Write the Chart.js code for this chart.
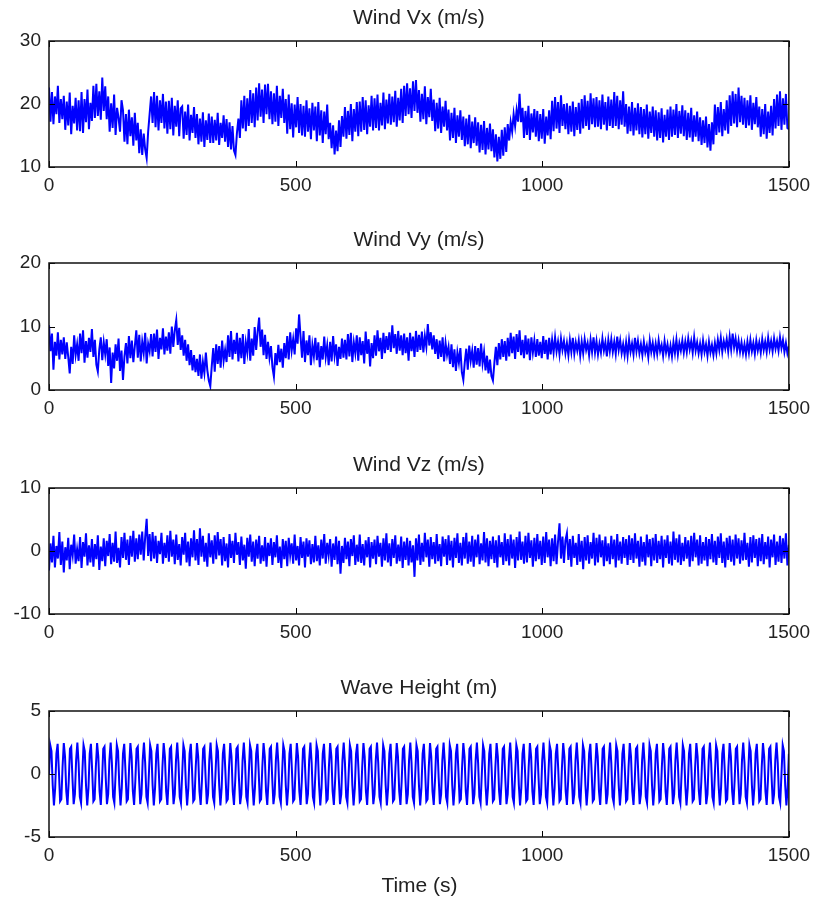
<!DOCTYPE html>
<html>
<head>
<meta charset="utf-8">
<script src="https://cdn.jsdelivr.net/npm/chart.js@4.4.0/dist/chart.umd.min.js"></script>
<style>
  html, body { margin: 0; padding: 0; background: #fff; }
  #wrap { position: relative; width: 817px; height: 903px; background: #fff; overflow: hidden; }
  #wrap canvas { position: absolute; left: 0; }
  #xlabel { position: absolute; left: 0; width: 839px; top: 872px; text-align: center;
            font: 21px "Liberation Sans", Arial, sans-serif; color: #222; line-height: 26px; }
</style>
</head>
<body>
<div id="wrap">
  <canvas id="c1" width="817" height="207" style="top:0px"></canvas>
  <canvas id="c2" width="817" height="208" style="top:222px"></canvas>
  <canvas id="c3" width="817" height="207" style="top:447px"></canvas>
  <canvas id="c4" width="817" height="207" style="top:670px"></canvas>
  <div id="xlabel">Time (s)</div>
</div>
<script>
// ---------------- DATA ----------------
const panelTitles = ['Wind Vx (m/s)', 'Wind Vy (m/s)', 'Wind Vz (m/s)', 'Wave Height (m)'];
const xTickStep = 500;
const timeMax = 1500;
const windStep = 3;     // seconds between wind samples
const waveStep = 2.5;   // seconds between wave samples
const vxTicks = [10, 20, 30];
const vyTicks = [0, 10, 20];
const vzTicks = [-10, 0, 10];
const waveTicks = [-5, 0, 5];

const vxValues = [
22.6,17.2,21.9,16.8,21.2,18.4,22.9,17.0,20.8,17.6,
21.3,15.9,20.4,16.6,21.8,15.2,19.7,16.9,21.0,15.8,
20.6,15.7,21.9,15.4,20.8,17.1,22.3,16.0,20.2,17.3,
22.9,17.8,23.2,18.1,22.0,17.5,24.2,18.9,22.8,17.6,
21.2,15.6,20.1,16.2,21.5,15.1,19.4,17.8,15.6,20.6,
19.0,14.0,18.4,13.6,19.1,14.9,17.9,13.4,18.6,14.2,
17.0,12.2,16.0,11.9,15.3,12.8,11.4,15.6,18.4,21.2,
17.0,21.9,16.3,21.3,15.8,20.6,17.0,21.6,16.1,20.4,
15.3,20.5,16.0,21.0,15.0,19.7,16.4,20.6,14.9,19.3,
19.6,14.5,18.8,15.1,19.9,14.2,18.3,15.4,19.5,14.6,
18.4,13.6,17.7,14.0,18.7,13.2,17.4,14.3,18.5,13.8,
18.0,13.8,17.5,14.2,18.6,13.5,17.0,14.6,18.2,14.0,
17.6,13.2,17.1,12.8,16.5,12.6,11.9,15.4,17.7,14.6,
20.6,16.1,21.3,15.7,20.9,16.5,22.2,17.0,21.7,16.3,
22.6,17.4,23.3,18.0,22.3,17.0,23.1,18.4,23.2,17.6,
22.0,16.8,21.7,17.2,22.9,16.5,21.3,17.8,22.4,17.0,
20.8,15.3,21.5,16.0,20.1,14.7,19.9,16.3,21.1,15.4,
20.0,15.0,19.7,14.8,20.6,15.6,19.3,14.4,20.2,15.8,
19.6,14.1,20.3,15.0,19.0,13.8,18.8,15.2,19.9,14.4,
17.0,13.0,16.6,12.0,15.8,12.5,17.4,13.2,18.1,14.8,
19.5,14.5,18.9,15.1,20.0,14.1,19.2,15.6,20.3,14.9,
20.4,15.6,21.1,15.9,20.6,15.2,19.8,16.4,21.3,15.8,
20.9,16.2,21.5,15.8,20.2,16.6,21.8,16.0,20.7,16.9,
21.6,16.7,21.2,17.1,22.1,16.4,21.0,17.4,22.4,17.0,
22.9,18.1,23.3,18.4,22.5,17.8,23.6,18.9,23.8,18.6,
22.2,17.2,21.6,17.6,22.8,16.8,21.1,17.9,22.4,17.3,
20.7,15.7,20.2,16.1,21.0,15.4,19.6,16.4,20.5,15.8,
19.1,14.2,18.6,14.6,19.4,13.8,18.2,14.8,19.0,14.3,
18.0,13.3,17.7,13.6,18.3,13.0,17.2,13.8,17.9,13.4,
17.1,12.3,16.7,12.7,17.3,12.0,16.2,12.8,16.9,12.5,
16.0,11.5,15.2,10.9,14.8,11.3,15.9,11.8,16.3,12.4,
16.8,14.2,17.1,15.6,18.4,16.5,19.0,17.2,21.6,17.1,
19.4,14.6,18.9,15.1,19.7,14.3,18.5,15.5,19.2,14.8,
18.9,14.1,18.4,14.5,19.2,13.7,18.0,15.0,19.0,14.4,
20.5,15.7,21.1,16.1,20.3,15.4,21.4,16.5,20.0,16.0,
20.1,15.2,19.7,15.6,20.4,14.9,19.5,15.9,20.2,15.3,
20.8,16.1,21.4,16.5,20.5,15.9,21.7,16.8,20.9,16.3,
21.1,16.4,20.6,16.0,21.5,16.7,20.3,15.8,21.2,16.5,
20.7,16.2,21.9,16.5,21.3,16.0,20.6,16.7,22.0,16.4,
20.0,15.3,19.6,15.7,20.3,15.0,19.4,15.8,20.1,15.2,
19.5,14.7,19.2,15.2,19.9,14.5,18.8,15.4,19.6,14.8,
19.0,14.2,18.7,14.6,19.3,13.9,18.3,14.8,19.1,14.3,
19.6,14.8,19.1,15.1,20.0,14.6,18.9,15.3,19.8,14.9,
19.0,14.3,18.6,14.7,19.4,14.0,18.2,14.8,18.8,14.1,
17.9,13.5,17.4,13.8,18.0,13.1,16.8,12.6,17.1,13.6,
19.9,15.1,19.5,15.5,20.3,14.9,19.2,15.8,20.6,15.3,
21.4,16.5,22.0,16.9,21.6,16.3,22.6,17.1,21.3,16.7,
21.0,16.2,20.6,16.6,21.4,15.9,20.2,16.8,21.1,16.3,
19.6,14.8,19.2,15.2,20.0,14.5,18.8,15.4,19.7,15.0,
20.8,16.1,21.5,16.5,22.0,15.9,20.9,16.7,21.6,16.2,
16.0];

const vyValues = [
10.2,6.1,8.9,3.2,7.6,5.4,9.1,4.8,7.9,5.6,
8.3,4.9,7.5,5.2,2.6,6.8,4.1,8.6,5.5,7.2,
4.6,8.9,5.8,9.4,4.3,7.7,5.1,8.2,6.0,9.6,
5.2,7.9,4.0,2.9,6.4,8.3,4.7,7.5,5.6,8.0,
3.8,6.7,1.1,5.9,3.4,7.2,4.6,8.1,3.0,6.2,
1.6,5.3,7.4,4.2,8.5,5.0,7.8,4.4,6.9,9.4,
5.1,8.7,4.5,7.6,5.8,9.0,4.2,7.3,6.1,8.8,
5.3,8.9,6.0,9.5,4.9,8.2,6.4,9.7,5.6,8.4,
6.2,9.1,5.7,10.0,6.8,9.4,11.0,7.1,9.8,6.3,
8.6,5.4,7.9,4.6,7.2,3.9,6.3,3.1,5.5,2.8,
4.9,2.2,5.6,1.8,4.4,2.7,5.9,3.1,1.5,0.6,
3.8,6.6,2.9,7.2,4.1,6.9,3.5,7.8,4.6,6.3,
4.4,8.6,5.2,9.3,4.8,7.9,5.7,9.0,4.5,8.2,
5.0,8.8,4.1,7.5,5.9,9.6,4.6,8.1,5.4,9.9,
6.3,9.2,11.4,6.8,9.5,5.5,8.7,4.9,7.6,5.1,
6.9,3.6,2.1,5.8,3.9,7.1,4.4,6.5,3.5,7.4,
5.0,8.5,4.8,9.1,6.2,8.0,5.6,9.7,7.3,11.9,
8.4,5.1,9.3,4.4,7.8,5.5,8.6,3.9,7.1,5.3,
8.2,4.7,7.5,3.6,6.9,4.8,8.4,5.2,7.0,3.9,
7.6,4.5,8.5,5.4,7.2,3.8,6.8,4.9,8.1,5.1,
7.9,4.8,8.8,5.3,9.0,4.4,7.5,5.8,8.6,4.6,
8.3,5.5,7.7,4.2,9.2,5.7,8.0,3.7,7.4,5.0,
8.6,5.4,9.4,6.1,8.2,4.9,9.0,5.8,8.5,6.3,
9.1,6.0,10.2,6.6,8.8,5.7,9.3,6.2,8.6,5.5,
8.9,5.8,8.3,4.6,9.0,6.1,8.4,5.2,9.3,6.0,
8.7,6.3,9.2,5.9,8.5,6.8,10.4,7.0,9.1,6.4,
8.6,5.7,8.0,4.9,7.8,5.2,8.3,4.5,7.4,5.5,
6.8,4.1,7.2,3.6,6.4,3.0,5.9,4.3,6.6,2.8,
1.6,4.4,6.5,3.2,7.0,4.6,6.2,3.5,6.9,4.0,
6.6,3.7,7.3,4.2,6.0,3.1,5.4,2.6,4.8,2.2,
1.5,4.3,6.8,3.9,7.4,4.8,8.0,5.2,7.7,4.6,
8.2,5.3,9.0,5.8,8.4,4.9,8.8,6.0,9.4,5.5,
7.9,5.0,8.6,5.6,8.1,4.7,8.3,5.9,7.8,5.2,
8.0,5.4,7.6,5.0,8.5,5.7,7.9,4.8,8.2,5.6,
7.9,5.9,8.3,6.1,7.6,5.6,8.1,6.3,7.7,5.8,
7.4,5.5,7.9,6.0,8.2,5.7,7.5,6.2,7.8,5.4,
7.6,5.8,8.0,6.3,7.4,5.5,7.9,6.0,8.3,5.9,
7.7,5.6,7.3,5.9,8.1,6.2,7.5,5.3,7.9,6.1,
8.0,6.0,7.6,5.7,8.4,6.3,7.8,5.8,7.2,5.5,
7.5,5.4,7.9,6.0,7.3,5.6,8.2,6.1,7.7,5.8,
7.2,5.5,7.6,5.9,7.0,5.2,7.8,6.0,7.4,5.6,
7.3,5.7,7.8,6.1,7.1,5.4,7.7,5.9,7.2,5.5,
7.0,5.3,7.5,5.8,7.9,5.6,7.4,6.2,7.8,5.9,
7.6,6.0,8.1,6.4,7.7,5.9,8.3,6.2,7.5,5.8,
7.3,5.6,7.8,6.0,7.2,5.4,7.6,5.9,7.1,5.5,
7.4,5.8,7.9,6.3,8.2,6.0,7.7,6.5,8.0,6.1,
8.4,6.4,8.9,6.7,8.1,6.2,7.8,6.0,7.5,5.8,
7.2,5.6,7.6,5.9,7.9,6.1,7.4,5.7,7.8,6.2,
7.5,5.9,8.0,6.3,7.6,6.0,8.2,6.4,7.7,6.1,
8.1,6.5,7.7,6.2,8.3,6.6,7.9,6.0,7.4,5.8,
6.9];

const vzValues = [
-3.1,1.2,-1.8,2.4,-2.6,0.8,-1.2,3.0,-2.2,1.5,
-3.4,0.6,-1.5,2.1,-2.9,1.0,-0.7,2.6,-2.0,0.3,
-1.6,2.2,-2.7,1.4,-0.9,2.8,-2.3,0.9,-1.8,1.9,
-2.5,1.1,-1.3,2.5,-3.0,0.7,-1.6,2.0,-2.4,1.6,
-0.8,2.7,-2.1,1.3,-1.7,3.1,-1.9,0.5,-2.6,2.2,
-1.1,2.9,-1.4,1.8,-2.2,2.4,-0.9,3.2,-1.7,2.0,
-1.3,2.6,-0.6,3.1,-1.5,2.2,5.1,-0.8,2.7,-1.6,
3.0,-1.2,2.4,-1.9,1.6,-0.5,2.9,-2.0,1.3,-1.1,
2.5,-1.7,3.2,-0.9,1.8,-2.1,2.6,-1.4,1.1,-2.3,
2.2,-0.6,2.9,-1.8,1.5,-2.4,2.0,-1.0,3.3,-1.5,
1.9,-2.2,3.6,-0.9,2.4,-1.7,1.3,-2.5,2.8,-1.0,
1.7,-2.0,2.5,-1.3,3.0,-0.7,1.9,-2.3,2.2,-1.6,
1.2,-2.6,2.7,-1.1,1.6,-1.9,2.9,-0.6,1.4,-2.2,
2.3,-1.5,1.0,-2.8,2.1,-0.9,2.6,-1.7,1.5,-2.4,
1.8,-1.2,2.4,-2.0,0.9,-1.6,2.2,-2.5,1.3,-0.8,
2.0,-2.2,1.4,-1.0,2.5,-1.9,0.7,-2.7,1.9,-1.3,
1.6,-2.4,2.1,-0.7,1.2,-2.0,2.6,-1.5,0.8,-2.3,
2.2,-1.1,1.5,-2.6,2.0,-0.9,1.7,-2.1,1.1,-1.8,
2.4,-1.6,0.9,-2.3,1.8,-1.2,2.7,-2.0,1.3,-0.7,
1.9,-2.5,1.2,-1.4,2.3,-2.1,1.6,-3.6,0.8,-1.9,
2.1,-1.3,1.5,-2.4,1.9,-0.8,2.5,-2.2,1.0,-1.7,
2.6,-1.9,1.1,-2.3,1.7,-1.0,2.2,-2.6,1.4,-1.2,
1.8,-2.1,2.4,-0.9,1.3,-2.5,2.0,-1.5,2.8,-1.8,
1.2,-2.4,1.9,-1.1,2.5,-2.0,1.0,-1.6,2.3,-2.7,
1.5,-1.4,2.1,-2.3,1.6,-1.8,0.9,-4.1,2.0,-1.5,
2.6,-2.2,1.3,-1.7,2.9,-1.0,1.8,-2.5,2.2,-1.3,
1.4,-2.0,2.7,-1.6,1.1,-2.4,2.3,-0.9,1.9,-2.2,
2.5,-1.5,1.6,-2.6,2.1,-1.1,2.8,-1.9,1.3,-2.3,
2.2,-1.2,2.9,-2.0,1.5,-1.7,2.4,-2.5,1.8,-1.0,
2.6,-2.1,1.2,-1.5,3.0,-1.8,2.0,-2.4,1.6,-1.3,
2.3,-1.9,1.7,-2.6,2.5,-1.0,1.4,-2.2,2.8,-1.6,
1.9,-2.3,2.6,-1.2,1.8,-2.7,2.2,-1.5,3.1,-1.4,
1.5,-2.0,2.4,-1.8,2.9,-1.1,1.7,-2.5,2.1,-1.6,
2.7,-1.3,1.6,-2.2,2.3,-1.9,3.0,-1.0,1.8,-2.4,
2.0,-1.6,2.6,-2.1,1.5,4.4,-1.2,2.3,-1.9,1.7,
2.8,-1.4,1.9,-2.5,2.4,-1.1,1.3,-2.2,2.7,-1.7,
1.6,-2.9,2.2,-1.5,2.5,-2.0,1.4,-1.2,2.9,-2.3,
2.1,-1.8,2.6,-1.0,1.7,-2.4,2.3,-1.6,1.2,-2.1,
2.4,-1.3,1.8,-2.6,2.7,-1.5,1.5,-2.0,2.2,-1.1,
1.9,-2.2,2.5,-1.4,2.0,-1.9,2.8,-1.2,1.6,-2.5,
2.3,-1.7,1.4,-2.3,2.6,-1.0,1.9,-2.4,2.1,-1.5,
2.7,-1.9,1.6,-1.3,2.4,-2.6,1.8,-1.1,2.5,-2.0,
1.5,-2.3,3.1,-1.4,2.0,-1.8,2.6,-2.2,1.3,-1.6,
2.2,-1.2,1.7,-2.5,2.4,-1.6,2.9,-1.0,1.8,-2.3,
2.5,-2.0,1.4,-1.5,2.2,-2.4,1.9,-1.3,2.7,-1.8,
1.6,-2.2,2.3,-1.1,2.8,-1.9,1.5,-2.6,2.1,-1.4,
2.4,-1.7,1.8,-2.3,2.6,-1.2,2.0,-2.0,1.7,-1.5,
2.9,-1.4,1.3,-2.5,2.2,-1.8,2.5,-1.1,1.9,-2.4,
2.1,-1.6,2.7,-2.1,1.4,-1.3,2.3,-2.6,1.8,-1.0,
2.6,-2.2,1.5,-1.7,2.4,-1.9,2.0,-1.2,2.8,-2.3,
1.0];

const waveValues = [
0,2.3,1.82,-0.86,-2.5,-1.12,1.61,2.4,0.29,-2.17,-2.01,0.58,2.46,1.37,-1.37,-2.46,-0.58,2.01,2.17,-0.29,-2.4,-1.61,1.12,2.5,0.86,-1.82,-2.3,
0,2.3,1.82,-0.86,-2.5,-1.12,1.61,2.4,0.29,-2.17,-2.01,0.58,2.46,1.37,-1.37,-2.46,-0.58,2.01,2.17,-0.29,-2.4,-1.61,1.12,2.5,0.86,-1.82,-2.3,
0,2.3,1.82,-0.86,-2.5,-1.12,1.61,2.4,0.29,-2.17,-2.01,0.58,2.46,1.37,-1.37,-2.46,-0.58,2.01,2.17,-0.29,-2.4,-1.61,1.12,2.5,0.86,-1.82,-2.3,
0,2.3,1.82,-0.86,-2.5,-1.12,1.61,2.4,0.29,-2.17,-2.01,0.58,2.46,1.37,-1.37,-2.46,-0.58,2.01,2.17,-0.29,-2.4,-1.61,1.12,2.5,0.86,-1.82,-2.3,
0,2.3,1.82,-0.86,-2.5,-1.12,1.61,2.4,0.29,-2.17,-2.01,0.58,2.46,1.37,-1.37,-2.46,-0.58,2.01,2.17,-0.29,-2.4,-1.61,1.12,2.5,0.86,-1.82,-2.3,
0,2.3,1.82,-0.86,-2.5,-1.12,1.61,2.4,0.29,-2.17,-2.01,0.58,2.46,1.37,-1.37,-2.46,-0.58,2.01,2.17,-0.29,-2.4,-1.61,1.12,2.5,0.86,-1.82,-2.3,
0,2.3,1.82,-0.86,-2.5,-1.12,1.61,2.4,0.29,-2.17,-2.01,0.58,2.46,1.37,-1.37,-2.46,-0.58,2.01,2.17,-0.29,-2.4,-1.61,1.12,2.5,0.86,-1.82,-2.3,
0,2.3,1.82,-0.86,-2.5,-1.12,1.61,2.4,0.29,-2.17,-2.01,0.58,2.46,1.37,-1.37,-2.46,-0.58,2.01,2.17,-0.29,-2.4,-1.61,1.12,2.5,0.86,-1.82,-2.3,
0,2.3,1.82,-0.86,-2.5,-1.12,1.61,2.4,0.29,-2.17,-2.01,0.58,2.46,1.37,-1.37,-2.46,-0.58,2.01,2.17,-0.29,-2.4,-1.61,1.12,2.5,0.86,-1.82,-2.3,
0,2.3,1.82,-0.86,-2.5,-1.12,1.61,2.4,0.29,-2.17,-2.01,0.58,2.46,1.37,-1.37,-2.46,-0.58,2.01,2.17,-0.29,-2.4,-1.61,1.12,2.5,0.86,-1.82,-2.3,
0,2.3,1.82,-0.86,-2.5,-1.12,1.61,2.4,0.29,-2.17,-2.01,0.58,2.46,1.37,-1.37,-2.46,-0.58,2.01,2.17,-0.29,-2.4,-1.61,1.12,2.5,0.86,-1.82,-2.3,
0,2.3,1.82,-0.86,-2.5,-1.12,1.61,2.4,0.29,-2.17,-2.01,0.58,2.46,1.37,-1.37,-2.46,-0.58,2.01,2.17,-0.29,-2.4,-1.61,1.12,2.5,0.86,-1.82,-2.3,
0,2.3,1.82,-0.86,-2.5,-1.12,1.61,2.4,0.29,-2.17,-2.01,0.58,2.46,1.37,-1.37,-2.46,-0.58,2.01,2.17,-0.29,-2.4,-1.61,1.12,2.5,0.86,-1.82,-2.3,
0,2.3,1.82,-0.86,-2.5,-1.12,1.61,2.4,0.29,-2.17,-2.01,0.58,2.46,1.37,-1.37,-2.46,-0.58,2.01,2.17,-0.29,-2.4,-1.61,1.12,2.5,0.86,-1.82,-2.3,
0,2.3,1.82,-0.86,-2.5,-1.12,1.61,2.4,0.29,-2.17,-2.01,0.58,2.46,1.37,-1.37,-2.46,-0.58,2.01,2.17,-0.29,-2.4,-1.61,1.12,2.5,0.86,-1.82,-2.3,
0,2.3,1.82,-0.86,-2.5,-1.12,1.61,2.4,0.29,-2.17,-2.01,0.58,2.46,1.37,-1.37,-2.46,-0.58,2.01,2.17,-0.29,-2.4,-1.61,1.12,2.5,0.86,-1.82,-2.3,
0,2.3,1.82,-0.86,-2.5,-1.12,1.61,2.4,0.29,-2.17,-2.01,0.58,2.46,1.37,-1.37,-2.46,-0.58,2.01,2.17,-0.29,-2.4,-1.61,1.12,2.5,0.86,-1.82,-2.3,
0,2.3,1.82,-0.86,-2.5,-1.12,1.61,2.4,0.29,-2.17,-2.01,0.58,2.46,1.37,-1.37,-2.46,-0.58,2.01,2.17,-0.29,-2.4,-1.61,1.12,2.5,0.86,-1.82,-2.3,
0,2.3,1.82,-0.86,-2.5,-1.12,1.61,2.4,0.29,-2.17,-2.01,0.58,2.46,1.37,-1.37,-2.46,-0.58,2.01,2.17,-0.29,-2.4,-1.61,1.12,2.5,0.86,-1.82,-2.3,
0,2.3,1.82,-0.86,-2.5,-1.12,1.61,2.4,0.29,-2.17,-2.01,0.58,2.46,1.37,-1.37,-2.46,-0.58,2.01,2.17,-0.29,-2.4,-1.61,1.12,2.5,0.86,-1.82,-2.3,
0,2.3,1.82,-0.86,-2.5,-1.12,1.61,2.4,0.29,-2.17,-2.01,0.58,2.46,1.37,-1.37,-2.46,-0.58,2.01,2.17,-0.29,-2.4,-1.61,1.12,2.5,0.86,-1.82,-2.3,
0,2.3,1.82,-0.86,-2.5,-1.12,1.61,2.4,0.29,-2.17,-2.01,0.58,2.46,1.37,-1.37,-2.46,-0.58,2.01,2.17,-0.29,-2.4,-1.61,1.12,2.5,0.86,-1.82,-2.3,
0,2.3,1.82,-0.86,-2.5,-1.12,1.61];

// ---------------- RENDERING ----------------
const FONT = '"Liberation Sans", Arial, Helvetica, sans-serif';
const TEXT_COLOR = '#222';

const boxPlugin = {
  id: 'matlabBox',
  afterDraw(chart, args, opts) {
    const { ctx, chartArea: a, scales: { x, y } } = chart;
    ctx.save();
    ctx.strokeStyle = '#000';
    ctx.lineWidth = 1;
    const tl = 6;
    ctx.beginPath();
    x.ticks.forEach(t => {
      const px = Math.round(x.getPixelForValue(t.value)) + 0.5;
      ctx.moveTo(px, a.bottom); ctx.lineTo(px, a.bottom - tl);
      ctx.moveTo(px, a.top); ctx.lineTo(px, a.top + tl);
    });
    y.ticks.forEach(t => {
      const py = Math.round(y.getPixelForValue(t.value)) + 0.5;
      ctx.moveTo(a.left, py); ctx.lineTo(a.left + tl, py);
      ctx.moveTo(a.right, py); ctx.lineTo(a.right - tl, py);
    });
    ctx.stroke();
    ctx.lineWidth = 1.5;
    ctx.strokeStyle = '#111';
    ctx.strokeRect(a.left, a.top, a.right - a.left, a.bottom - a.top);
    ctx.fillStyle = TEXT_COLOR;
    ctx.font = '21px ' + FONT;
    ctx.textAlign = 'center';
    ctx.textBaseline = 'middle';
    ctx.fillText(opts.title, (a.left + a.right) / 2, a.top - 23);
    ctx.restore();
  }
};

function makePanel(canvasId, title, values, step, ticks, lineWidth) {
  const points = values.map((v, i) => ({ x: i * step, y: v }));
  return new Chart(document.getElementById(canvasId), {
    type: 'line',
    data: {
      datasets: [{
        data: points,
        borderColor: '#0000ff',
        borderWidth: lineWidth,
        pointRadius: 0,
        tension: 0,
        fill: false
      }]
    },
    options: {
      responsive: false,
      animation: false,
      events: [],
      devicePixelRatio: 1,
      layout: { padding: { top: 41, left: 0, right: 27, bottom: 0 } },
      plugins: {
        legend: { display: false },
        tooltip: { enabled: false },
        title: { display: false },
        matlabBox: { title: title }
      },
      scales: {
        x: {
          type: 'linear',
          min: 0,
          max: timeMax,
          grid: { display: false, drawTicks: false },
          border: { display: false },
          ticks: {
            stepSize: xTickStep,
            padding: 7,
            color: TEXT_COLOR,
            font: { family: FONT, size: 19 },
            maxRotation: 0,
            autoSkip: false,
            callback: v => String(v)
          },
          afterFit(scale) { scale.height = 40; }
        },
        y: {
          type: 'linear',
          min: ticks[0],
          max: ticks[ticks.length - 1],
          grid: { display: false, drawTicks: false },
          border: { display: false },
          ticks: {
            stepSize: ticks[1] - ticks[0],
            padding: 8,
            color: TEXT_COLOR,
            font: { family: FONT, size: 19 },
            autoSkip: false,
            callback: v => String(v)
          },
          afterFit(scale) { scale.width = 49; }
        }
      }
    },
    plugins: [boxPlugin]
  });
}

makePanel('c1', panelTitles[0], vxValues, windStep, vxTicks, 2);
makePanel('c2', panelTitles[1], vyValues, windStep, vyTicks, 2);
makePanel('c3', panelTitles[2], vzValues, windStep, vzTicks, 2);
makePanel('c4', panelTitles[3], waveValues, waveStep, waveTicks, 2);
</script>
</body>
</html>
